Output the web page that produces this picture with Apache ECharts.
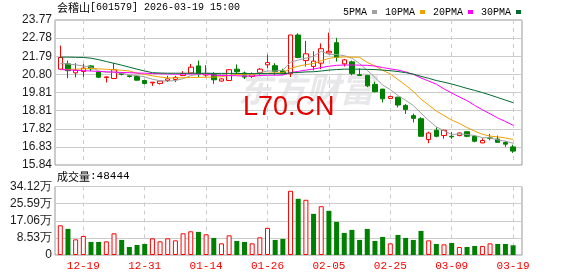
<!DOCTYPE html>
<html>
<head>
<meta charset="utf-8">
<script src="https://cdn.jsdelivr.net/npm/echarts@6/dist/echarts.min.js"></script>
<style>
html, body { margin: 0; padding: 0; background: #fff; }
#chart { width: 578px; height: 276px; }
</style>
</head>
<body>
<div id="chart"></div>
<script>
// Trading days (MM-DD)
const dates = [
  '12-16','12-17','12-18','12-19','12-22','12-23','12-24','12-25','12-26','12-29','12-30','12-31',
  '01-05','01-06','01-07','01-08','01-09','01-12','01-13','01-14','01-15','01-16','01-19','01-20',
  '01-21','01-22','01-23','01-26','01-27','01-28','01-29','01-30','02-02','02-03','02-04','02-05',
  '02-06','02-09','02-10','02-11','02-12','02-13','02-24','02-25','02-26','02-27','03-02','03-03',
  '03-04','03-05','03-06','03-09','03-10','03-11','03-12','03-13','03-16','03-17','03-18','03-19'
];

// Daily prices
const opens = [
  21.08,21.37,20.88,20.95,21.26,20.92,20.62,20.57,20.87,20.72,20.68,20.46,
  20.33,20.30,20.46,20.52,20.73,20.87,21.26,20.76,20.83,20.43,20.46,21.08,
  20.87,20.68,20.90,21.32,21.27,20.98,20.83,22.95,21.55,21.23,21.41,21.97,
  22.53,21.37,21.48,20.78,20.74,20.25,19.99,19.48,19.55,19.10,18.54,18.37,
  17.23,17.74,17.45,17.41,17.45,17.66,17.41,17.05,17.32,17.26,17.07,16.83
];
const closes = [
  21.72,21.00,21.02,21.14,21.10,20.64,20.66,21.05,20.80,20.68,20.48,20.30,
  20.37,20.43,20.55,20.63,20.84,21.19,20.81,20.84,20.50,20.55,21.05,20.94,
  20.65,20.77,21.08,21.44,20.95,20.86,22.95,21.72,21.92,21.52,22.20,22.06,
  21.72,21.59,20.84,20.74,20.17,19.85,19.46,19.59,19.12,18.87,18.39,17.41,
  17.59,17.41,17.74,17.38,17.59,17.41,17.14,17.18,17.30,17.08,16.98,16.60
];
const lows = [
  21.05,20.59,20.63,20.65,20.97,20.59,20.35,20.55,20.74,20.62,20.47,20.25,
  20.17,20.24,20.38,20.38,20.72,20.83,20.65,20.66,20.28,20.40,20.43,20.78,
  20.54,20.60,20.77,21.14,20.77,20.79,20.65,21.68,21.23,21.01,21.08,21.95,
  21.50,21.23,20.75,20.72,20.10,19.81,19.26,19.45,18.99,18.63,18.17,17.41,
  17.03,17.36,17.28,17.27,17.41,17.36,17.08,17.03,17.19,17.05,16.83,16.50
];
const highs = [
  22.37,21.55,21.41,21.37,21.30,20.95,20.68,21.41,20.90,20.75,20.72,20.50,
  20.38,20.45,20.72,20.72,20.97,21.37,21.55,21.30,20.92,20.60,21.08,21.34,
  20.95,20.90,21.14,21.88,21.41,21.10,22.95,23.04,22.63,22.06,22.49,23.08,
  22.79,21.64,21.55,21.12,20.77,20.39,20.00,19.62,19.57,19.17,18.65,18.45,
  17.66,17.90,17.77,17.65,17.62,17.70,17.48,17.30,17.54,17.45,17.16,16.95
];

// Daily volume (shares)
const volumes = [
  148000,130000,78000,95000,65000,65000,68000,108000,75000,40000,50000,55000,
  83000,68000,83000,73000,108000,118000,115000,103000,85000,58000,98000,70000,
  65000,58000,88000,135000,75000,80000,320000,280000,275000,205000,243000,220000,
  165000,110000,125000,75000,130000,70000,90000,58000,100000,85000,75000,120000,
  73000,55000,53000,60000,40000,40000,45000,45000,58000,55000,55000,48444
];

// Moving averages
const ma5 = [
  21.40,21.36,21.32,21.26,21.20,20.98,20.91,20.92,20.85,20.77,20.73,20.66,
  20.53,20.45,20.43,20.46,20.56,20.73,20.80,20.86,20.84,20.78,20.75,20.78,
  20.74,20.79,20.90,20.98,20.98,21.02,21.46,21.58,21.68,21.79,22.06,21.88,
  21.88,21.82,21.68,21.39,21.01,20.64,20.21,19.96,19.64,19.38,19.09,18.68,
  18.28,17.93,17.71,17.51,17.54,17.51,17.45,17.34,17.32,17.22,17.14,17.03
];
const ma10 = [
  21.06,21.07,21.08,21.10,21.12,21.10,21.07,21.05,21.02,20.98,20.86,20.79,
  20.72,20.65,20.60,20.60,20.61,20.63,20.63,20.64,20.65,20.67,20.74,20.79,
  20.80,20.81,20.84,20.86,20.88,20.88,21.12,21.24,21.33,21.39,21.54,21.67,
  21.73,21.75,21.74,21.73,21.45,21.26,21.02,20.82,20.51,20.20,19.86,19.44,
  19.12,18.79,18.54,18.30,18.11,17.89,17.69,17.52,17.42,17.38,17.32,17.24
];
const ma20 = [
  21.06,21.04,21.02,21.00,20.98,20.96,20.94,20.92,20.90,20.89,20.87,20.86,
  20.84,20.83,20.82,20.81,20.81,20.82,20.82,20.81,20.75,20.73,20.73,20.72,
  20.70,20.70,20.73,20.75,20.75,20.76,20.89,20.96,21.03,21.09,21.17,21.24,
  21.29,21.31,21.31,21.30,21.29,21.25,21.17,21.10,21.03,20.93,20.80,20.60,
  20.43,20.26,20.00,19.78,19.56,19.36,19.10,18.86,18.64,18.41,18.22,18.01
];
const ma30 = [
  21.74,21.74,21.73,21.72,21.68,21.60,21.50,21.40,21.30,21.19,21.08,20.98,
  20.89,20.87,20.86,20.86,20.86,20.86,20.86,20.86,20.85,20.85,20.85,20.85,
  20.84,20.84,20.84,20.84,20.84,20.83,20.88,20.90,20.93,20.94,20.98,21.03,
  21.06,21.08,21.08,21.08,21.07,21.06,21.03,21.00,20.95,20.89,20.81,20.69,
  20.58,20.46,20.37,20.27,20.15,20.03,19.92,19.80,19.67,19.53,19.39,19.25
];

// Axis ticks
const priceTicks = [15.84, 16.83, 17.82, 18.81, 19.81, 20.80, 21.79, 22.78, 23.77];
const volumeMax = 341200;
const volumeStep = 85300;
const dateTickIdx = [3, 11, 19, 27, 35, 43, 51, 59];

const stockName = '会稽山';
const stockCode = '601579';
const stamp = '2026-03-19 15:00';
const maNames = ['5PMA', '10PMA', '20PMA', '30PMA'];
const maColors = ['#a0a0a0', '#f0a000', '#ff00ff', '#006a30'];

const RED = '#ff0000';
const GREEN = '#008000';
const MONO = '"Liberation Mono", monospace';
const SANS = '"Liberation Sans", Arial, sans-serif';
const CJK = '"Noto Sans CJK SC", sans-serif';

const candleData = dates.map((d, i) => [i, opens[i], closes[i], lows[i], highs[i]]);

const volumeData = volumes.map((v, i) => {
  const prev = i > 0 ? closes[i - 1] : opens[i];
  const up = closes[i] >= prev;
  return {
    value: [i, v],
    itemStyle: up
      ? { color: '#ffffff', borderColor: RED, borderWidth: 1 }
      : { color: GREEN, borderColor: GREEN, borderWidth: 0 }
  };
});

const maSeries = [ma5, ma10, ma20, ma30].map((arr, k) => ({
  name: maNames[k],
  type: 'line',
  xAxisIndex: 0,
  yAxisIndex: 0,
  data: arr.map((v, i) => [i, v]),
  symbol: 'none',
  smooth: false,
  silent: true,
  z: 3,
  lineStyle: { color: maColors[k], width: 1 },
  itemStyle: { color: maColors[k] }
}));

const xMin = -0.69, xMax = 60.16;

const option = {
  animation: false,
  backgroundColor: '#ffffff',
  legend: {
    data: maNames,
    left: 338,
    top: 2,
    align: 'right',
    icon: 'rect',
    itemWidth: 5,
    itemHeight: 4,
    itemGap: 8,
    selectedMode: false,
    textStyle: { fontFamily: MONO, fontSize: 10, color: '#000', padding: [0, 0, 0, 0] }
  },
  grid: [
    { left: 55, top: 20, width: 467, height: 145, show: true, borderColor: '#999', borderWidth: 1, backgroundColor: 'transparent' },
    { left: 55, top: 186.5, width: 467, height: 68.5, show: true, borderColor: '#999', borderWidth: 1, backgroundColor: 'transparent' }
  ],
  xAxis: [
    {
      type: 'value', gridIndex: 0, min: xMin, max: xMax,
      axisLine: { show: false },
      axisTick: { show: false, customValues: dateTickIdx },
      axisLabel: { show: false, customValues: dateTickIdx },
      splitLine: { show: true, lineStyle: { color: '#cccccc', type: [4, 4], width: 1 } }
    },
    {
      type: 'value', gridIndex: 1, min: xMin, max: xMax,
      axisLine: { show: false },
      axisTick: { show: false, customValues: dateTickIdx },
      axisLabel: {
        show: true, customValues: dateTickIdx,
        formatter: v => dates[Math.round(v)],
        color: RED, fontFamily: MONO, fontSize: 11, margin: 6
      },
      splitLine: { show: true, lineStyle: { color: '#cccccc', type: [4, 4], width: 1 } }
    }
  ],
  yAxis: [
    {
      type: 'value', gridIndex: 0, min: 15.84, max: 23.77, scale: true,
      axisLine: { show: false },
      axisTick: { show: false, customValues: priceTicks },
      axisLabel: {
        customValues: priceTicks,
        formatter: v => v.toFixed(2),
        color: '#1a1a1a', fontFamily: SANS, fontSize: 12, margin: 3
      },
      splitLine: { show: true, lineStyle: { color: '#cccccc', width: 1 } }
    },
    {
      type: 'value', gridIndex: 1, min: 0, max: volumeMax, interval: volumeStep,
      axisLine: { show: false },
      axisTick: { show: false },
      axisLabel: {
        formatter: v => v === 0 ? '0' : (v / 10000).toFixed(2) + '万',
        color: '#1a1a1a', fontFamily: SANS, fontSize: 12, margin: 3
      },
      splitLine: { show: true, lineStyle: { color: '#cccccc', width: 1 } }
    }
  ],
  graphic: [
    {
      type: 'text', left: 57, top: 2, z: 10,
      style: {
        text: '{a|' + stockName + '}{b|[' + stockCode + '] ' + stamp + '}',
        rich: {
          a: { fontFamily: CJK, fontSize: 11, fill: '#000' },
          b: { fontFamily: MONO, fontSize: 10, fill: '#000' }
        }
      }
    },
    {
      type: 'text', left: 57, top: 171, z: 10,
      style: {
        text: '{a|成交量}{b|:' + volumes[volumes.length - 1] + '}',
        rich: {
          a: { fontFamily: CJK, fontSize: 11, fill: '#000' },
          b: { fontFamily: MONO, fontSize: 11, fill: '#000' }
        }
      }
    },
    {
      type: 'text', left: 238, top: 72, z: 0, silent: true,
      style: {
        text: '东方财富', fontFamily: CJK, fontSize: 34, fontWeight: 'bold', fontStyle: 'italic',
        fill: '#e8e8ea'
      }
    },
    {
      type: 'text', left: 243, top: 94, z: 20, silent: true,
      style: {
        text: 'L70.CN', fontFamily: SANS, fontSize: 27, fill: '#e60000'
      }
    }
  ],
  series: [
    {
      name: 'K',
      type: 'candlestick',
      xAxisIndex: 0,
      yAxisIndex: 0,
      data: candleData,
      encode: { x: 0, y: [1, 2, 3, 4] },
      barWidth: 5,
      silent: true,
      z: 2,
      itemStyle: {
        color: '#ffffff',
        color0: GREEN,
        borderColor: RED,
        borderColor0: GREEN,
        borderWidth: 1
      }
    },
    ...maSeries,
    {
      name: 'VOL',
      type: 'bar',
      xAxisIndex: 1,
      yAxisIndex: 1,
      data: volumeData,
      barWidth: 5,
      silent: true
    }
  ]
};

const chart = echarts.init(document.getElementById('chart'), null, { renderer: 'canvas' });
chart.setOption(option);
</script>
</body>
</html>
